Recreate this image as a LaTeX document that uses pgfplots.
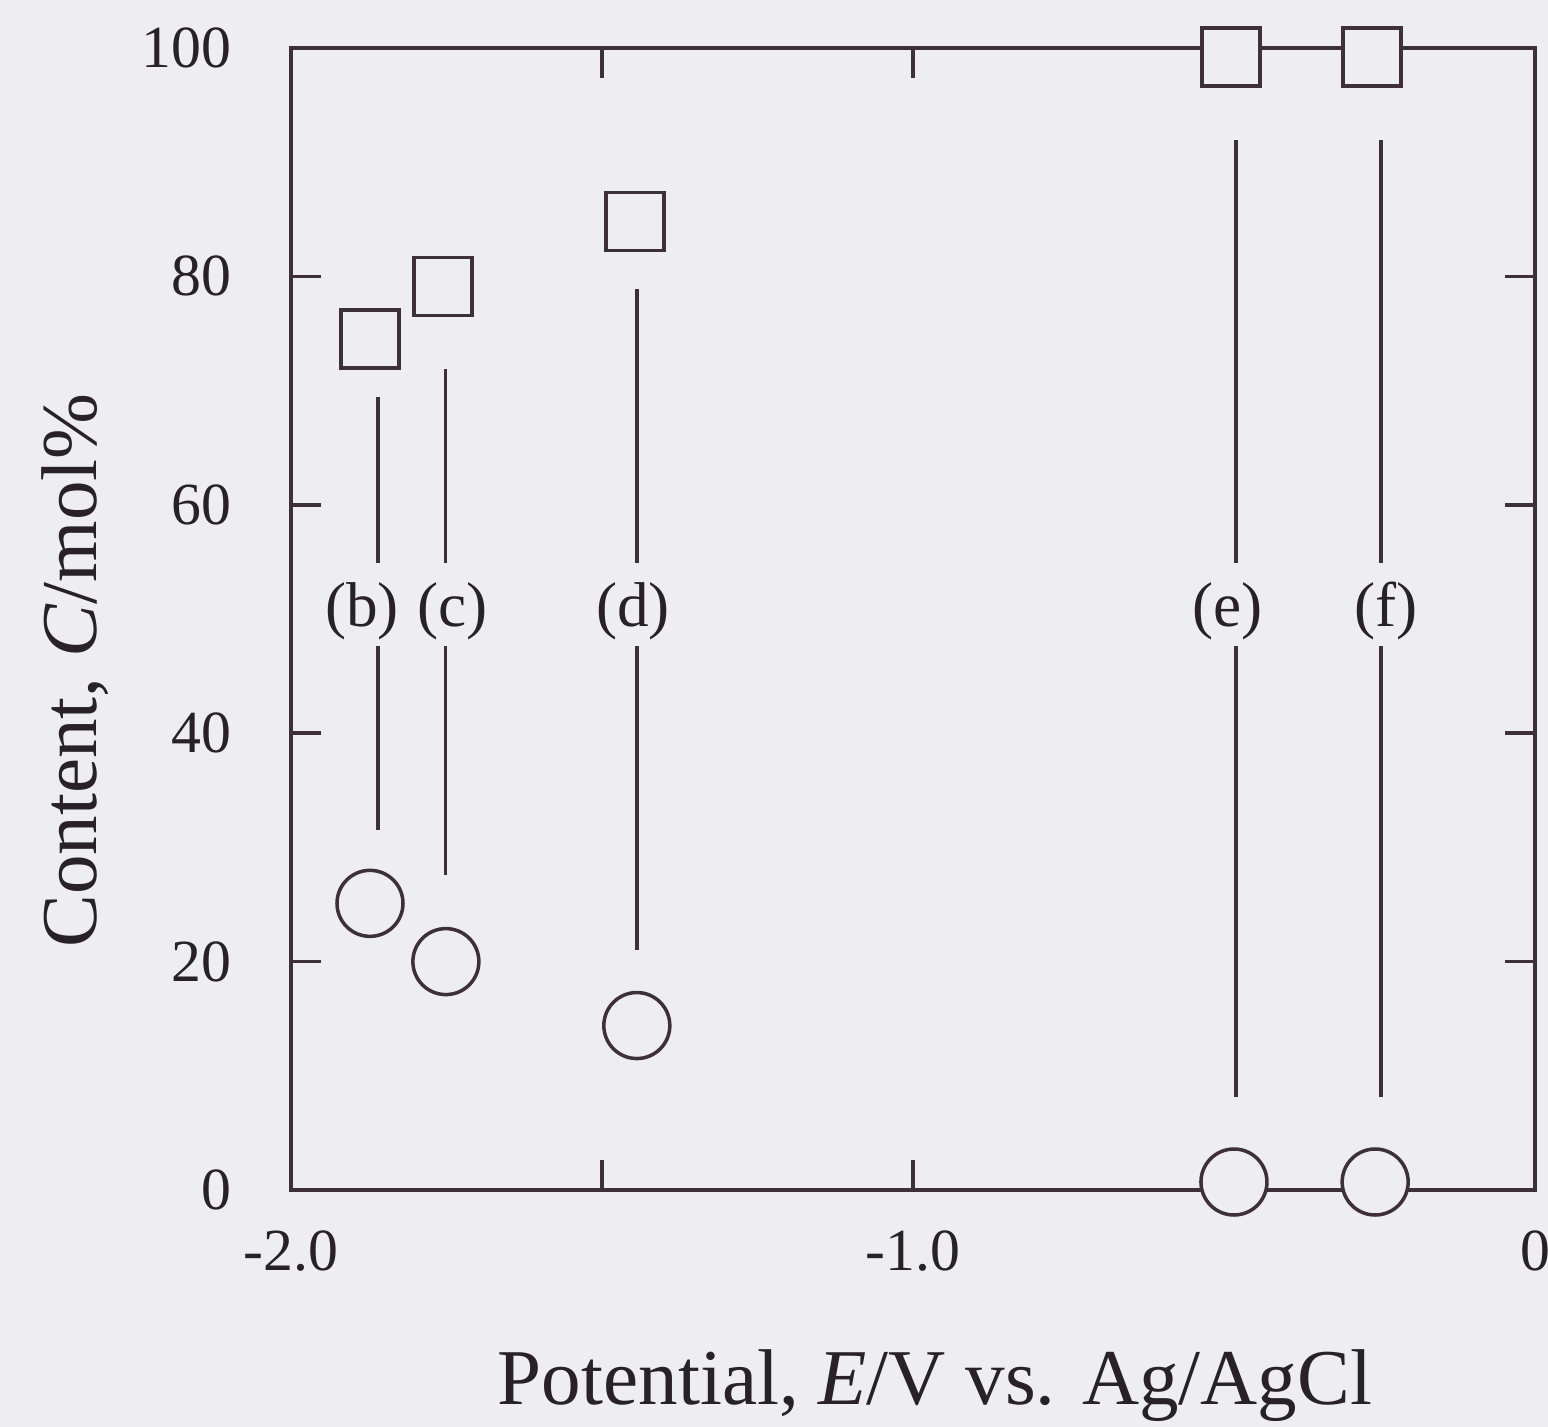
\documentclass[border=0pt]{standalone}
\usepackage{fontspec}
\setmainfont{Liberation Serif}
\usepackage{pgfplots}
\pgfplotsset{compat=1.18}
\definecolor{bg}{RGB}{238,238,240}
\definecolor{ink}{RGB}{62,48,58}
\definecolor{txt}{RGB}{40,34,40}
\begin{document}
\begin{tikzpicture}
\fill[bg] (-2.91,-2.37) rectangle (12.57,11.90);
\useasboundingbox (-2.91,-2.37) rectangle (12.57,11.90);
\begin{axis}[
  at={(0,0)}, anchor=south west,
  scale only axis, width=12.44cm, height=11.42cm,
  xmin=-2, xmax=0, ymin=0, ymax=100,
  clip=false,
  axis line style={ink, line width=1.1pt},
  every tick/.style={ink, line width=1pt},
  tick align=inside, major tick length=3mm,
  xtick={-2,-1.5,-1,-0.5,0}, xticklabels={-2.0,,-1.0,,0},
  ytick={0,20,40,60,80,100}, yticklabels={0,20,40,60,80,100},
  x tick label style={font=\fontsize{17}{20}\selectfont, text=txt, anchor=base, inner sep=0pt, yshift=-0.80cm},
  y tick label style={font=\fontsize{17}{20}\selectfont, text=txt, anchor=east, inner sep=0pt, xshift=-0.59cm},
  xlabel={Potential, \textit{E}/V vs. Ag/AgCl},
  xlabel style={font=\fontsize{22.5}{26}\selectfont, text=txt, at={(axis description cs:0.5177,-0.1874)}, anchor=base, inner sep=0pt},
  ylabel={Content, \textit{C}/mol\%},
  ylabel style={font=\fontsize{22.5}{26}\selectfont, text=txt, at={(axis description cs:-0.156,0.455)}, anchor=base, inner sep=0pt},
]
% squares
\addplot[only marks, mark=square*, mark size=2.9mm, mark options={draw=ink, fill=bg, line width=1pt}] coordinates {
  (-1.873,74.5) (-1.756,79.1) (-1.447,84.8) (-0.489,99.2) (-0.262,99.2)
};
% circles
\addplot[only marks, mark=*, mark size=3.3mm, mark options={draw=ink, fill=bg, line width=1pt}] coordinates {
  (-1.873,25.1) (-1.751,20.0) (-1.444,14.4) (-0.484,0.7) (-0.257,0.7)
};
% annotation lines
\draw[ink, line width=1pt] (axis cs:-1.860,69.4) -- (axis cs:-1.860,54.9);
\draw[ink, line width=1pt] (axis cs:-1.860,47.6) -- (axis cs:-1.860,31.5);
\draw[ink, line width=1pt] (axis cs:-1.752,71.9) -- (axis cs:-1.752,54.9);
\draw[ink, line width=1pt] (axis cs:-1.752,47.6) -- (axis cs:-1.752,27.6);
\draw[ink, line width=1pt] (axis cs:-1.444,78.9) -- (axis cs:-1.444,54.9);
\draw[ink, line width=1pt] (axis cs:-1.444,47.6) -- (axis cs:-1.444,21.0);
\draw[ink, line width=1pt] (axis cs:-0.481,91.9) -- (axis cs:-0.481,54.9);
\draw[ink, line width=1pt] (axis cs:-0.481,47.6) -- (axis cs:-0.481,8.1);
\draw[ink, line width=1pt] (axis cs:-0.248,91.9) -- (axis cs:-0.248,54.9);
\draw[ink, line width=1pt] (axis cs:-0.248,47.6) -- (axis cs:-0.248,8.1);
% labels
\node[font=\fontsize{18}{21}\selectfont, text=txt, inner sep=0pt] at (axis cs:-1.886,50.7) {(b)};
\node[font=\fontsize{18}{21}\selectfont, text=txt, inner sep=0pt] at (axis cs:-1.740,50.7) {(c)};
\node[font=\fontsize{18}{21}\selectfont, text=txt, inner sep=0pt] at (axis cs:-1.450,50.7) {(d)};
\node[font=\fontsize{18}{21}\selectfont, text=txt, inner sep=0pt] at (axis cs:-0.495,50.7) {(e)};
\node[font=\fontsize{18}{21}\selectfont, text=txt, inner sep=0pt] at (axis cs:-0.240,50.7) {(f)};
\end{axis}
\end{tikzpicture}
\end{document}
